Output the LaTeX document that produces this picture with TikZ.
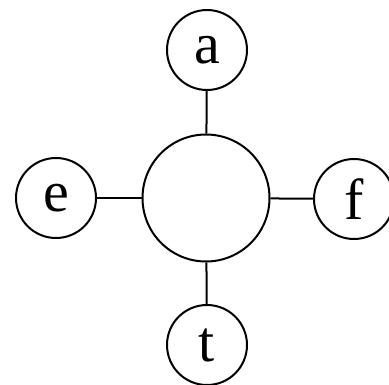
\documentclass[tikz,border=0pt]{standalone}
\usepackage{fontspec}
\setmainfont{Liberation Serif}
\begin{document}
\begin{tikzpicture}[x=1pt,y=-1pt,
  leaf/.style={circle,draw,line width=2pt,minimum size=80pt,inner sep=0pt,font=\fontsize{58}{58}\selectfont},
  hub/.style={circle,draw,line width=2pt,minimum size=127pt,inner sep=0pt},
  link/.style={line width=2pt}]
\useasboundingbox (0,0) rectangle (389,384);
\node[hub] (c) at (206,198) {};
\node[leaf] (a) at (207,50) {a};
\node[leaf] (e) at (56,198) {e};
\node[leaf] (f) at (354,199) {f};
\node[leaf] (t) at (207,345) {t};
\draw[link] (c) -- (a);
\draw[link] (c) -- (e);
\draw[link] (c) -- (f);
\draw[link] (c) -- (t);
\end{tikzpicture}
\end{document}
